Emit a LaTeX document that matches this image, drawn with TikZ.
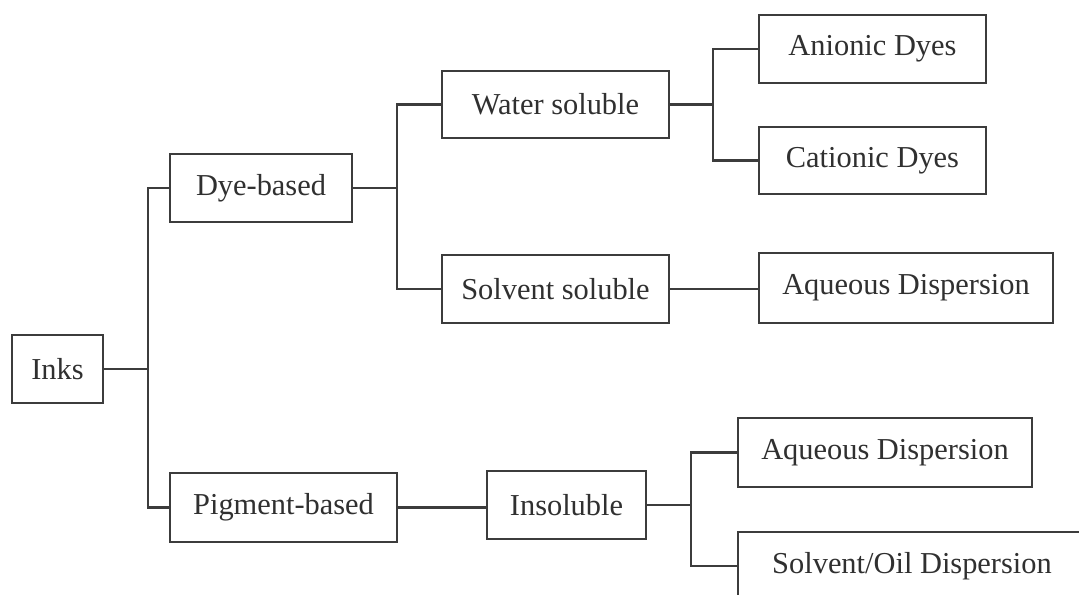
\documentclass[tikz,border=0pt]{standalone}
\usepackage{fontspec}
\setmainfont{Liberation Serif}
\usepackage{tikz}
\usetikzlibrary{positioning, calc}
\usepackage{xcolor}
\definecolor{inkline}{HTML}{3C3C3C}
\definecolor{inktext}{HTML}{303030}

\begin{document}
\begin{tikzpicture}[
        box/.style={draw=inkline, line width=1.25pt, rectangle, inner sep=0pt, align=center, font=\fontsize{17.3}{20}\selectfont, text=inktext, minimum height=1.36cm},
        link/.style={draw=inkline, line width=1.15pt}
    ]
        \clip (0, 0) rectangle (21.58, -11.9);
        \fill[white] (0, 0) rectangle (21.58, -11.9);

        % Radice
        \node[box, minimum width=1.82cm] (inks) at (1.15, -7.38) {Inks};

        % Primo livello
        \node[box, minimum width=3.64cm] (dye) at (5.22, -3.76) {Dye-based};
        \node[box, minimum width=4.54cm, minimum height=1.38cm] (pigment) at (5.67, -10.15) {Pigment-based};

        % Secondo livello
        \node[box, minimum width=4.54cm, minimum height=1.34cm] (water) at (11.11, -2.09) {Water soluble};
        \node[box, minimum width=4.54cm] (solvent) at (11.11, -5.78) {Solvent soluble};
        \node[box, minimum width=3.18cm] (insol) at (11.33, -10.1) {Insoluble};

        % Terzo livello
        \node[box, minimum width=4.54cm] (anionic) at (17.45, -0.98) {Anionic Dyes};
        \node[box, minimum width=4.54cm, minimum height=1.34cm] (cationic) at (17.45, -3.21) {Cationic Dyes};
        \node[box, minimum width=5.88cm, minimum height=1.4cm] (aqtop) at (18.12, -5.76) {Aqueous Dispersion};
        \node[box, minimum width=5.88cm, minimum height=1.38cm] (aqbot) at (17.7, -9.05) {Aqueous Dispersion};
        \node[box, minimum width=6.96cm] (oil) at (18.24, -11.32) {Solvent/Oil Dispersion};

        % Snodi
        \coordinate (j1) at (2.96, -7.38);
        \coordinate (j2) at (7.94, -3.76);
        \coordinate (j3) at (14.26, -2.09);
        \coordinate (j4) at (13.82, -10.1);

        % Collegamenti
        \draw[link] (inks.east) -- (j1);
        \draw[link] (dye.west) -| (j1) |- (pigment.west);
        \draw[link] (dye.east) -- (j2);
        \draw[link] (water.west) -| (j2) |- (solvent.west);
        \draw[link] (water.east) -- (j3);
        \draw[link] (anionic.west) -| (j3) |- (cationic.west);
        \draw[link] (solvent.east) -- (solvent.east -| aqtop.west);
        \draw[link] (pigment.east) -- (pigment.east -| insol.west);
        \draw[link] (insol.east) -- (j4);
        \draw[link] (aqbot.west) -| (j4) |- (oil.west);
    \end{tikzpicture}
\end{document}
